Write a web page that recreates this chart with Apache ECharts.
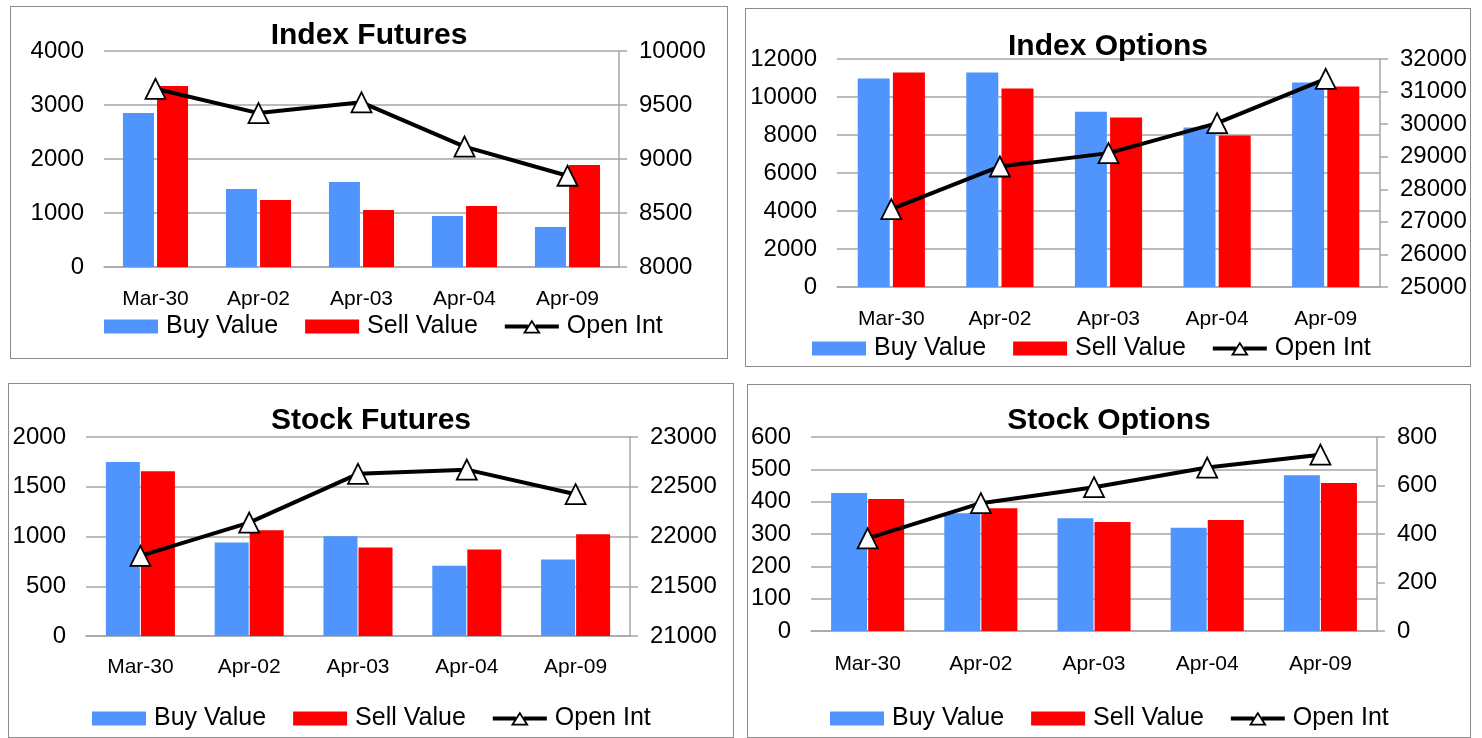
<!DOCTYPE html>
<html>
<head>
<meta charset="utf-8">
<title>Derivatives turnover</title>
<script src="https://cdn.jsdelivr.net/npm/echarts@6/dist/echarts.min.js"></script>
<style>
  html, body { margin: 0; padding: 0; background: #fff; }
  body { width: 1482px; height: 738px; position: relative; overflow: hidden; }
  .panel { position: absolute; box-sizing: border-box; border: 1px solid #8c8c8c; background: #fff; }
</style>
</head>
<body>
<div id="p1" class="panel" style="left:10px; top:6px; width:718px; height:353px;"></div>
<div id="p2" class="panel" style="left:745px; top:8px; width:726px; height:359px;"></div>
<div id="p3" class="panel" style="left:8px; top:383px; width:726px; height:355px;"></div>
<div id="p4" class="panel" style="left:747px; top:384px; width:724px; height:354px;"></div>

<script>
var categories = ["Mar-30", "Apr-02", "Apr-03", "Apr-04", "Apr-09"];

// Index Futures
var ifBuy = [2850, 1445, 1575, 945, 740];
var ifSell = [3350, 1240, 1055, 1130, 1890];
var ifOpenInt = [9650, 9425, 9525, 9115, 8845];
var ifLeftTicks = [0, 4000, 1000];   // min, max, step
var ifRightTicks = [8000, 10000, 500];

// Index Options
var ioBuy = [10970, 11290, 9230, 8390, 10760];
var ioSell = [11290, 10450, 8920, 7970, 10550];
var ioOpenInt = [27390, 28700, 29110, 30030, 31390];
var ioLeftTicks = [0, 12000, 2000];
var ioRightTicks = [25000, 32000, 1000];

// Stock Futures
var sfBuy = [1748, 940, 1003, 707, 770];
var sfSell = [1657, 1062, 890, 870, 1022];
var sfOpenInt = [21805, 22140, 22630, 22672, 22425];
var sfLeftTicks = [0, 2000, 500];
var sfRightTicks = [21000, 23000, 500];

// Stock Options
var soBuy = [427, 364, 349, 319, 482];
var soSell = [408, 380, 337, 343, 458];
var soOpenInt = [382, 527, 593, 674, 727];
var soLeftTicks = [0, 600, 100];
var soRightTicks = [0, 800, 200];

var FONT = "'Liberation Sans', Arial, sans-serif";

// legend icon for the line: thick line broken by a hollow triangle
var LINE_ICON = "path://M0,5L23,5L23,9L0,9Z" +
  "M31,5L54,5L54,9L31,9Z" +
  "M27,0L36,14L18,14Z" +
  "M27,3.32L21.29,12.2L32.71,12.2Z";

function plain(v) {
  return String(v);
}

function makeChart(id, title, buy, sell, oi, leftTicks, rightTicks, lay) {
  var chart = echarts.init(document.getElementById(id));
  var option = {
    animation: false,
    textStyle: { fontFamily: FONT, color: "#000" },
    title: {
      text: title,
      left: "center",
      top: lay.titleTop,
      textStyle: { fontFamily: FONT, fontSize: 30, fontWeight: "bold", color: "#000" }
    },
    legend: {
      left: lay.legendLeft,
      top: lay.legendTop,
      itemWidth: 54,
      itemHeight: 14,
      itemGap: 27,
      textStyle: { fontFamily: FONT, fontSize: 25, color: "#000", padding: [0, 0, 0, 3] },
      data: [
        { name: "Buy Value", icon: "rect" },
        { name: "Sell Value", icon: "rect" },
        { name: "Open Int", icon: LINE_ICON, itemStyle: { color: "#000", borderWidth: 0 } }
      ]
    },
    grid: {
      left: lay.grid[0],
      top: lay.grid[1],
      width: lay.grid[2],
      height: lay.grid[3]
    },
    xAxis: {
      type: "category",
      data: categories,
      axisLine: { lineStyle: { color: "#a6a6a6", width: 1.5 } },
      axisTick: { show: false },
      axisLabel: { fontFamily: FONT, fontSize: 21, color: "#000", margin: lay.xMargin }
    },
    yAxis: [
      {
        type: "value",
        min: leftTicks[0],
        max: leftTicks[1],
        interval: leftTicks[2],
        axisLine: { show: false },
        axisTick: { show: false },
        axisLabel: { fontFamily: FONT, fontSize: 24, color: "#000", margin: 20, formatter: plain },
        splitLine: { show: true, lineStyle: { color: "#a6a6a6", width: 1.5 } }
      },
      {
        type: "value",
        position: "right",
        min: rightTicks[0],
        max: rightTicks[1],
        interval: rightTicks[2],
        axisLine: { show: true, lineStyle: { color: "#a6a6a6", width: 1.5 } },
        axisTick: { show: true, length: 8, lineStyle: { color: "#a6a6a6", width: 1.5 } },
        axisLabel: { fontFamily: FONT, fontSize: 24, color: "#000", margin: 20, formatter: plain },
        splitLine: { show: false }
      }
    ],
    series: [
      {
        name: "Buy Value",
        type: "bar",
        barWidth: lay.barWidth,
        barGap: lay.barGap,
        itemStyle: { color: "#4f95fd" },
        data: buy
      },
      {
        name: "Sell Value",
        type: "bar",
        barWidth: lay.barWidth,
        barGap: lay.barGap,
        itemStyle: { color: "#ff0000" },
        data: sell
      },
      {
        name: "Open Int",
        type: "line",
        yAxisIndex: 1,
        z: 5,
        symbol: "triangle",
        symbolSize: 20,
        lineStyle: { color: "#000", width: 4 },
        itemStyle: { color: "#fff", borderColor: "#000", borderWidth: 1.8 },
        data: oi
      }
    ]
  };
  chart.setOption(option);
  window.addEventListener("resize", function () {
    chart.resize();
  });
  return chart;
}

makeChart("p1", "Index Futures", ifBuy, ifSell, ifOpenInt, ifLeftTicks, ifRightTicks, {
  titleTop: 9, legendLeft: 88, legendTop: 302, grid: [93, 44, 515, 216],
  xMargin: 22, barWidth: 31, barGap: "10%"
});
makeChart("p2", "Index Options", ioBuy, ioSell, ioOpenInt, ioLeftTicks, ioRightTicks, {
  titleTop: 18, legendLeft: 61, legendTop: 322, grid: [91, 50, 543, 228],
  xMargin: 22, barWidth: 32, barGap: "10%"
});
makeChart("p3", "Stock Futures", sfBuy, sfSell, sfOpenInt, sfLeftTicks, sfRightTicks, {
  titleTop: 17, legendLeft: 78, legendTop: 317, grid: [77, 53, 544, 199],
  xMargin: 21, barWidth: 34, barGap: "3%"
});
makeChart("p4", "Stock Options", soBuy, soSell, soOpenInt, soLeftTicks, soRightTicks, {
  titleTop: 16, legendLeft: 77, legendTop: 316, grid: [63, 52, 566, 194],
  xMargin: 23, barWidth: 36, barGap: "3%"
});
</script>
</body>
</html>
